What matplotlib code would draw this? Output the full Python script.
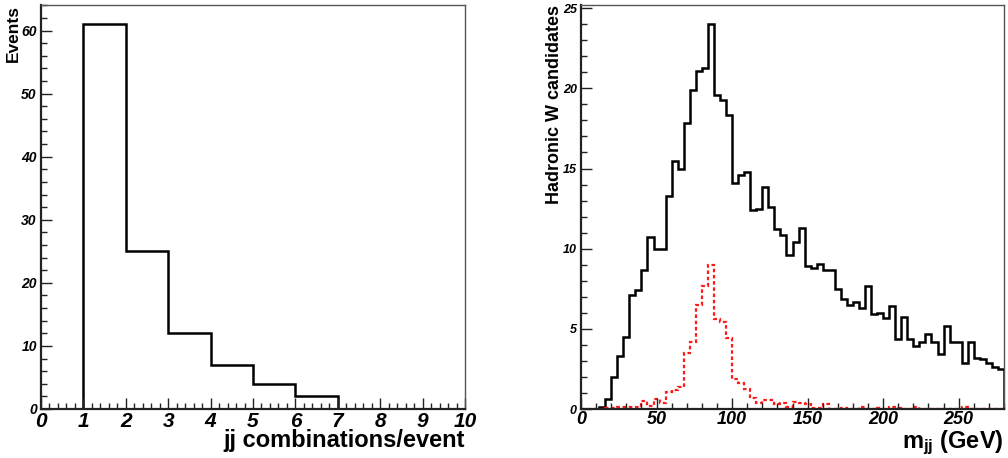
import numpy as np
import matplotlib
matplotlib.use('Agg')
import matplotlib.pyplot as plt
from matplotlib.ticker import MultipleLocator
from matplotlib.font_manager import FontProperties

plt.rcParams['font.family'] = ['Liberation Sans', 'DejaVu Sans']
plt.rcParams['mathtext.fontset'] = 'custom'
plt.rcParams['mathtext.rm'] = 'Liberation Sans:bold'
plt.rcParams['mathtext.bf'] = 'Liberation Sans:bold'
plt.rcParams['mathtext.it'] = 'Liberation Sans:bold:italic'

# ---- Left panel: jj combinations per event ----
comb_edges = [0, 1, 2, 3, 4, 5, 6, 7, 8, 9, 10]
comb_counts = [0, 61, 25, 12, 7, 4, 2, 0, 0, 0]

# ---- Right panel: m_jj, 4 GeV bins from 0 to 280 ----
mjj_lo, mjj_hi, mjj_bin = 0, 280, 4
all_candidates = [
    0, 0, 0, 0.15, 0.6, 2.0, 3.3, 4.5, 7.1, 7.4,
    8.7, 10.7, 9.95, 10.0, 13.3, 15.5, 15.0, 17.85, 19.9, 21.1,
    21.3, 24.0, 19.6, 19.3, 18.35, 14.1, 14.6, 14.8, 12.4, 12.5,
    13.85, 12.6, 11.2, 10.85, 9.6, 10.4, 11.3, 8.9, 8.8, 9.05,
    8.65, 8.65, 7.5, 6.85, 6.5, 6.65, 6.3, 7.65, 5.95, 6.0,
    5.7, 6.45, 4.35, 5.75, 4.35, 3.9, 4.2, 4.7, 4.15, 3.4,
    5.2, 4.15, 4.15, 2.9, 4.15, 3.2, 3.1, 2.85, 2.6, 2.5,
]
true_w = [
    0, 0, 0, 0, 0.05, 0.05, 0.15, 0.15, 0.1, 0.15,
    0.5, 0.2, 0.65, 0.4, 1.08, 1.2, 1.35, 3.5, 4.15, 6.5,
    7.7, 9.0, 5.6, 5.45, 4.45, 1.9, 1.65, 1.25, 0.7, 0.35,
    0.55, 0.55, 0.3, 0.4, 0.15, 0.45, 0.35, 0.3, 0.05, 0.05,
    0.3, 0, 0, 0.05, 0, 0, 0.1, 0, 0, 0.05,
    0, 0.1, 0.05, 0, 0, 0.1, 0, 0, 0, 0,
    0, 0, 0, 0.1, 0, 0, 0, 0, 0, 0,
]
mjj_edges = np.arange(mjj_lo, mjj_hi + mjj_bin, mjj_bin)

W, H = 1008, 458
fig = plt.figure(figsize=(W / 100, H / 100), dpi=100)


def style_axes(ax):
    for s in ['top', 'right']:
        ax.spines[s].set_color('#555555')
        ax.spines[s].set_linewidth(1.0)
    for s in ['left', 'bottom']:
        ax.spines[s].set_color('#222222')
        ax.spines[s].set_linewidth(1.6)
    ax.tick_params(which='both', direction='in', top=False, right=False,
                   color='#222222', width=1.0)
    ax.tick_params(which='major', length=8)
    ax.tick_params(which='minor', length=4)


tick_font = dict(family='Liberation Sans', weight='bold', style='italic')

# Left axes
ax1 = fig.add_axes([41 / W, 49 / H, 424 / W, 404 / H])
ax1.stairs(comb_counts, comb_edges, color='black', lw=1.8)
ax1.set_xlim(0, 10)
ax1.set_ylim(0, 64.05)
style_axes(ax1)
ax1.xaxis.set_major_locator(MultipleLocator(1))
ax1.xaxis.set_minor_locator(MultipleLocator(0.2))
ax1.yaxis.set_major_locator(MultipleLocator(10))
ax1.yaxis.set_minor_locator(MultipleLocator(2))
ax1.tick_params(axis='x', which='major', pad=2)
ax1.tick_params(axis='y', which='major', pad=3)
for lab in ax1.get_xticklabels():
    lab.set_fontproperties(FontProperties(size=15, **tick_font))
for lab in ax1.get_yticklabels():
    lab.set_fontproperties(FontProperties(size=10, **tick_font))
ax1.text(1.0, -0.05, 'jj combinations/event', transform=ax1.transAxes,
         ha='right', va='top', fontsize=17, fontweight='bold')
ax1.text(-0.064, 1.0, 'Events', transform=ax1.transAxes, rotation=90,
         ha='center', va='top', fontsize=12.5, fontweight='bold')

# Right axes
ax2 = fig.add_axes([581 / W, 49 / H, 423 / W, 404 / H])
ax2.stairs(all_candidates, mjj_edges, color='black', lw=1.8)
ax2.stairs(true_w, mjj_edges, color='#ff1a1a', lw=1.6, linestyle=(0, (1.6, 1.2)))
ax2.set_xlim(mjj_lo, mjj_hi)
ax2.set_ylim(0, 25.2)
style_axes(ax2)
ax2.xaxis.set_major_locator(MultipleLocator(50))
ax2.xaxis.set_minor_locator(MultipleLocator(10))
ax2.yaxis.set_major_locator(MultipleLocator(5))
ax2.yaxis.set_minor_locator(MultipleLocator(1))
ax2.tick_params(axis='x', which='major', pad=1.5)
ax2.tick_params(axis='y', which='major', pad=3)
for lab in ax2.get_xticklabels():
    lab.set_fontproperties(FontProperties(size=13, **tick_font))
for lab in ax2.get_yticklabels():
    lab.set_fontproperties(FontProperties(size=9, **tick_font))
ax2.text(1.0, -0.048, r'm$_{\mathbf{jj}}$ (GeV)', transform=ax2.transAxes,
         ha='right', va='top', fontsize=17, fontweight='bold')
ax2.text(-0.062, 1.0, 'Hadronic W candidates', transform=ax2.transAxes, rotation=90,
         ha='center', va='top', fontsize=13, fontweight='bold')

fig.savefig('out.png', dpi=100)
